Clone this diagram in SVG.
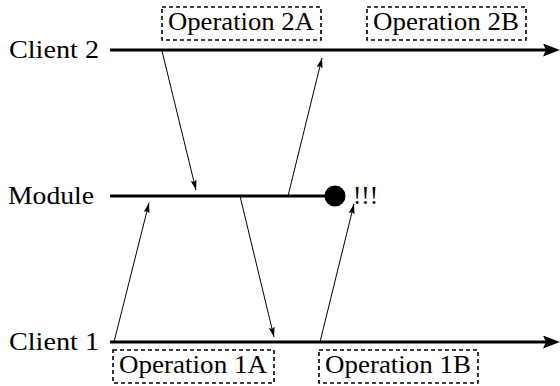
<svg xmlns="http://www.w3.org/2000/svg" width="560" height="386" viewBox="0 0 560 386">
<style>
text{font-family:'Liberation Serif','Times New Roman',serif;font-size:25px;fill:#000}
.timeline{stroke:#000;stroke-width:3.2;fill:none}
.msg{stroke:#000;stroke-width:1;fill:none}
.op{fill:#fff;stroke:#000;stroke-width:1.6;stroke-dasharray:4 3}
</style>
<defs>
<marker id="bigArrow" markerUnits="userSpaceOnUse" markerWidth="18" markerHeight="14" refX="7" refY="6.5" orient="auto">
<path d="M0,0 L17,6.5 L0,13 L3,6.5 z" fill="#000"/>
</marker>
<marker id="smallArrow" markerUnits="userSpaceOnUse" markerWidth="11" markerHeight="7" refX="10" refY="3" orient="auto">
<path d="M0,0 L10,3 L0,6 L1.8,3 z" fill="#000"/>
</marker>
</defs>
<g id="client2">
<text x="9" y="57.5" textLength="90" lengthAdjust="spacingAndGlyphs">Client 2</text>
<line class="timeline" x1="110" y1="50" x2="550" y2="50" marker-end="url(#bigArrow)"/>
</g>
<g id="module">
<text x="8" y="203.5" textLength="86" lengthAdjust="spacingAndGlyphs">Module</text>
<line class="timeline" x1="110" y1="196" x2="335" y2="196"/>
<circle cx="335" cy="196" r="10.5" fill="#000"/>
<text x="353" y="203.5">!!!</text>
</g>
<g id="client1">
<text x="9" y="349.5" textLength="90" lengthAdjust="spacingAndGlyphs">Client 1</text>
<line class="timeline" x1="110" y1="342" x2="550" y2="342" marker-end="url(#bigArrow)"/>
</g>
<g id="op2A">
<rect class="op" x="162" y="7" width="159" height="33"/>
<text x="168" y="29.5" textLength="146" lengthAdjust="spacingAndGlyphs">Operation 2A</text>
</g>
<g id="op2B">
<rect class="op" x="367" y="7" width="159" height="33"/>
<text x="373" y="29.5" textLength="146" lengthAdjust="spacingAndGlyphs">Operation 2B</text>
</g>
<g id="op1A">
<rect class="op" x="113" y="350" width="161" height="33"/>
<text x="119" y="372.5" textLength="148" lengthAdjust="spacingAndGlyphs">Operation 1A</text>
</g>
<g id="op1B">
<rect class="op" x="319" y="350" width="159" height="33"/>
<text x="325" y="372.5" textLength="146" lengthAdjust="spacingAndGlyphs">Operation 1B</text>
</g>
<g id="connectors">
<line class="msg" x1="162" y1="51" x2="196" y2="190" marker-end="url(#smallArrow)"/>
<line class="msg" x1="288" y1="196" x2="322" y2="58" marker-end="url(#smallArrow)"/>
<line class="msg" x1="114" y1="342" x2="149" y2="203" marker-end="url(#smallArrow)"/>
<line class="msg" x1="240" y1="196" x2="274" y2="337" marker-end="url(#smallArrow)"/>
<line class="msg" x1="320" y1="342" x2="354" y2="204" marker-end="url(#smallArrow)"/>
</g>
</svg>
